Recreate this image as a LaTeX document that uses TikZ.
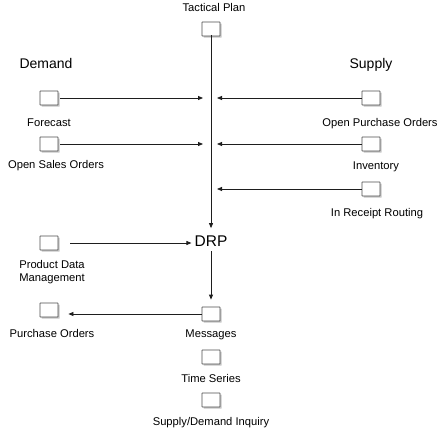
\documentclass[tikz,border=0pt]{standalone}
\usepackage{fontspec}
\setmainfont{Liberation Sans}
\usepackage{tikz}
\usetikzlibrary{
  arrows.meta,
  positioning,
  shadows
}
\definecolor{boxline}{HTML}{4D4D4D}
\definecolor{boxshade}{HTML}{C4C4C4}
\definecolor{flow}{HTML}{1E1E1E}
\tikzset{
  box/.style={
    rectangle,
    rounded corners=0.4pt,
    draw=boxline,
    fill=white,
    line width=0.8pt,
    minimum width=18pt,
    minimum height=14pt,
    inner sep=0pt,
    drop shadow={shadow xshift=1.6pt, shadow yshift=-1.6pt, fill=boxshade, opacity=1}
  },
  lbl/.style={
    font=\fontsize{11.2}{13}\selectfont,
    inner sep=0pt,
    anchor=base
  },
  head/.style={
    font=\fontsize{14}{16}\selectfont,
    inner sep=0pt,
    anchor=base
  },
  arrow/.style={
    -{Triangle[length=5pt,width=4pt]},
    line width=0.8pt,
    draw=flow
  }
}

\begin{document}
\begin{tikzpicture}[x=1pt, y=-1pt]
\useasboundingbox (0,0) rectangle (446,439);

% boxes
\node[box] (tactical) at (211,29) {};
\node[box] (forecast) at (49,98) {};
\node[box] (oso) at (49,144) {};
\node[box] (pdm) at (49,243) {};
\node[box] (po) at (49,310) {};
\node[box] (opo) at (371,98) {};
\node[box] (inv) at (371,144) {};
\node[box] (irr) at (371,189) {};
\node[box] (msg) at (211,314) {};
\node[box] (ts) at (211,357) {};
\node[box] (sdi) at (211,400) {};

% labels
\node[lbl] (tacticaltxt) at (214,12) {Tactical Plan};
\node[head] (demand) at (46,68) {Demand};
\node[head] (supply) at (371,68) {Supply};
\node[lbl] (forecasttxt) at (49,126) {Forecast};
\node[lbl] (osotxt) at (56,168) {Open Sales Orders};
\node[lbl] (opotxt) at (380,126) {Open Purchase Orders};
\node[lbl] (invtxt) at (376,169) {Inventory};
\node[lbl] (irrtxt) at (377,216) {In Receipt Routing};
\node[head, font=\fontsize{15.5}{17}\selectfont] (drp) at (211,246) {DRP};
\node[lbl, anchor=center, align=center] (pdmtxt) at (52,272) {Product Data\\Management};
\node[lbl] (potxt) at (52,337) {Purchase Orders};
\node[lbl] (msgtxt) at (211,337) {Messages};
\node[lbl] (tstxt) at (211,382) {Time Series};
\node[lbl] (sditxt) at (211,425) {Supply/Demand Inquiry};

% flows
\draw[arrow] (tactical.south) ++(0,-1.6) -- ([yshift=7pt]drp.north);
\draw[arrow, shorten >=8pt] (forecast.east) ++(1.6,0) -- (forecast -| tactical);
\draw[arrow, shorten >=8pt] (oso.east) ++(1.6,0) -- (oso -| tactical);
\draw[arrow, shorten >=6pt] (opo.west) -- (opo -| tactical);
\draw[arrow, shorten >=6pt] (inv.west) -- (inv -| tactical);
\draw[arrow, shorten >=6pt] (irr.west) -- (irr -| tactical);
\draw[arrow, shorten <=12pt, shorten >=3pt] (pdm.east) -- (pdm -| drp.west);
\draw[arrow, shorten <=5pt, shorten >=7pt] (drp.south) -- (msg.north);
\draw[arrow, shorten >=10pt] (msg.west) -- (msg.west -| po.east);
\end{tikzpicture}
\end{document}
